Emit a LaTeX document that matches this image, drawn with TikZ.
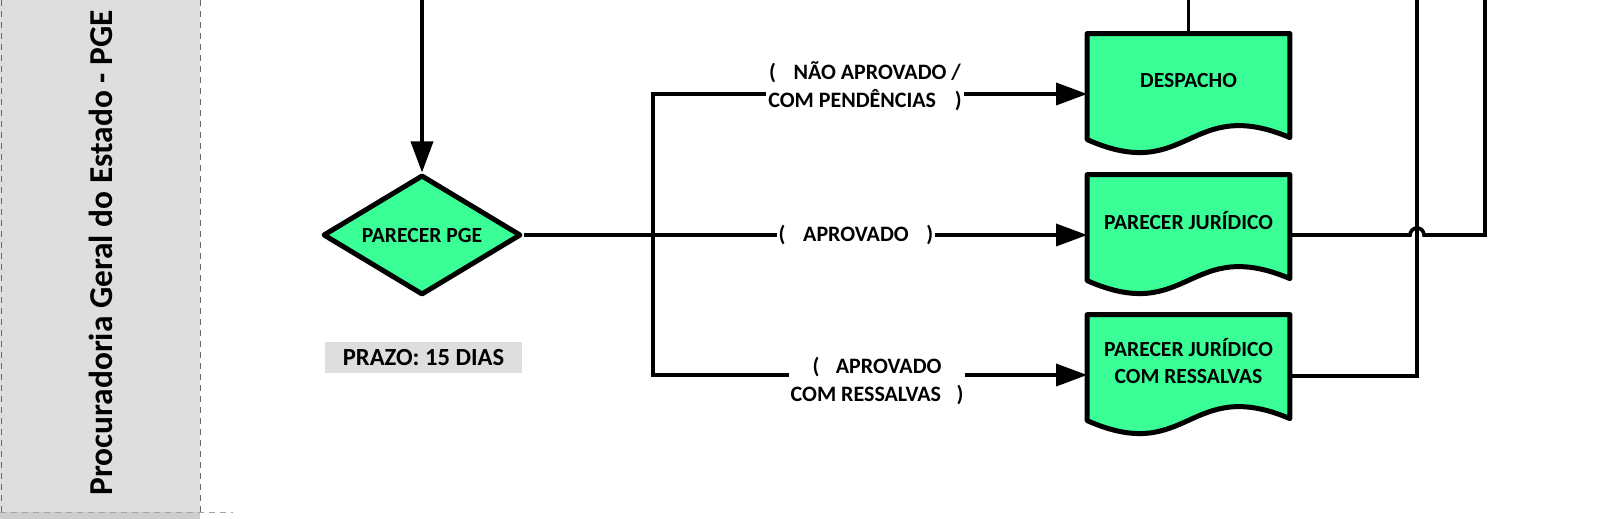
\documentclass[tikz,border=0pt]{standalone}
\usepackage{fontspec}
\setmainfont{Carlito}
\usetikzlibrary{arrows.meta,calc,shapes.geometric,backgrounds}
\definecolor{docgreen}{RGB}{58,255,150}
\definecolor{lanegray}{RGB}{222,222,222}
\definecolor{lanegraydark}{RGB}{205,205,205}
\definecolor{dashgray}{RGB}{105,105,105}
\definecolor{boxgray}{RGB}{222,222,222}
\newcommand\docoutline[1]{%
  \draw[docline] (#1.north west) -- (#1.north east) -- ($(#1.north east)+(0,104)$)
    .. controls ($(#1.north)+(0,61)$) and ($(#1.north)+(0,151)$) .. ($(#1.north west)+(0,106)$) -- cycle;}
\begin{document}
\begin{tikzpicture}[x=0.5pt,y=-0.5pt,
  conn/.style={line width=1.8pt, draw=black, line join=miter},
  arr/.style={conn, -{Triangle[length=15.5pt,width=11pt]}},
  docnode/.style={minimum width=101pt, minimum height=46pt, inner sep=0pt, align=center,
    font=\fontsize{10.8}{13.5}\selectfont\bfseries},
  docline/.style={line width=2.5pt, line join=round, fill=docgreen, draw=black},
  decision/.style={diamond, aspect=1.67, draw=black, fill=docgreen, line width=2.5pt, line join=round,
    minimum width=99pt, minimum height=60pt, inner sep=0pt,
    font=\fontsize{10.8}{13.5}\selectfont\bfseries},
  lbl/.style={fill=white, inner xsep=1pt, inner ysep=2pt, align=center,
    font=\fontsize{11}{14}\selectfont\bfseries},
  prazo/.style={fill=boxgray, minimum width=98.5pt, minimum height=15.5pt, inner sep=0pt,
    font=\fontsize{12.3}{14}\selectfont\bfseries},
  lanetext/.style={rotate=90, font=\fontsize{16.7}{20}\selectfont\bfseries}
]
\useasboundingbox (0,0) rectangle (1612,519);

% swimlane
\begin{pgfonlayer}{background}
  \fill[lanegray] (0,0) rectangle (200,512);
  \fill[lanegraydark] (0,512) rectangle (200,519);
  \draw[dashgray, line width=0.5pt, dash pattern=on 3pt off 2.5pt] (1,0) -- (1,512);
  \draw[dashgray, line width=0.5pt, dash pattern=on 3pt off 2.5pt] (200,0) -- (200,512);
  \draw[lanegraydark!80!black, line width=0.5pt, dash pattern=on 3pt off 2.5pt] (0,512) -- (233,512);
\end{pgfonlayer}
\node[lanetext] (lane) at (101,253) {Procuradoria Geral do Estado - PGE};

% nodes
\node[decision] (dia) at (422,235) {PARECER PGE};
\node[prazo] (prazo) at (423.5,357.5) {PRAZO: 15 DIAS};

\node[docnode] (desp) at (1188.5,80) {DESPACHO};
\node[docnode] (pj) at (1188.5,221) {PARECER JURÍDICO};
\node[docnode] (cr) at (1188.5,361) {PARECER JURÍDICO\\COM RESSALVAS};

\begin{pgfonlayer}{background}
  \docoutline{desp}
  \docoutline{pj}
  \docoutline{cr}
\end{pgfonlayer}

% free ends and branch point
\coordinate (intop) at (422,-10);
\coordinate (br) at (653,235);
\coordinate (desptop) at (1188.5,-10);
\coordinate (crtop) at (1417,-10);
\coordinate (pjtop) at (1485,-10);

% connectors
\draw[arr] (intop) -- (dia.north);
\draw[arr] (dia.east) -- ($(pj.west)+(0,14)$);
\draw[arr] (br) |- ($(desp.west)+(0,14)$);
\draw[arr] (br) |- ($(cr.west)+(0,14)$);

\draw[conn] (desp.north) -- (desptop);
\draw[conn] ($(cr.east)+(0,15)$) -| (crtop);
\draw[conn] ($(pj.east)+(0,14)$) -- ($(crtop|-pj.east)+(-7,14)$)
  arc[start angle=180, end angle=0, radius=3.5pt] -- ($(pjtop|-pj.east)+(0,14)$) -- (pjtop);

% labels
\node[lbl] (l1) at (865,86.5) {(\hspace{0.8em}NÃO APROVADO /\\COM PENDÊNCIAS\hspace{0.85em})};
\node[lbl] (l2) at (856,235) {(\hspace{0.8em}APROVADO\hspace{0.8em})};
\node[lbl] (l3) at (877,381) {(\hspace{0.75em}APROVADO\\COM RESSALVAS\hspace{0.7em})};
\end{tikzpicture}
\end{document}
